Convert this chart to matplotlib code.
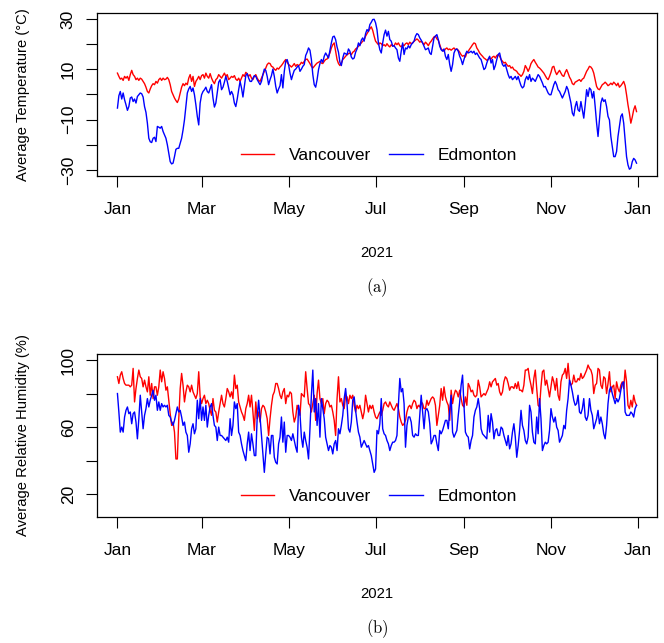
import matplotlib
matplotlib.use("Agg")
import matplotlib.pyplot as plt
import pandas as pd

plt.rcParams['font.family'] = ['Liberation Sans', 'DejaVu Sans']
plt.rcParams['mathtext.fontset'] = 'cm'

days = pd.date_range("2021-01-01", "2021-12-31", freq="D")

# daily mean temperature (C)
van_temp = [
    8.5, 7.2, 6.1, 6.5, 5.6, 7.2, 6.5, 7.2, 5.6, 7.9,
    9.6, 7.9, 7.2, 5.9, 6.5, 5.6, 6.5, 6.1, 5.2, 4.3,
    2.9, 1.2, 0.6, 2.2, 3.5, 4.3, 3.9, 5.2, 4.5, 5.9,
    6.5, 5.6, 6.5, 5.9, 6.1, 6.8, 5.9, 3.9, 1.2, -0.1,
    -1.4, -2.4, -3.2, -1.8, 0.6, 2.9, 4.3, 3.5, 4.5, 3.9,
    6.5, 7.9, 5.2, 7.2, 3.2, 5.2, 6.1, 7.2, 5.9, 7.5,
    7.9, 6.5, 8.5, 7.2, 6.5, 8.3, 6.5, 5.2, 4.3, 5.9,
    6.5, 7.9, 7.2, 6.5, 7.5, 8.5, 7.2, 7.9, 5.9, 6.5,
    7.2, 6.8, 7.5, 6.1, 5.6, 6.5, 5.2, 6.5, 7.9, 7.2,
    8.8, 8.3, 7.2, 7.9, 6.5, 5.9, 7.2, 7.9, 6.5, 5.6,
    5.2, 6.5, 7.9, 9.2, 10.5, 11.9, 12.5, 12.3, 11.2, 10.9,
    10.1, 9.6, 10.5, 10.1, 10.9, 11.5, 12.3, 13.2, 13.9, 12.8,
    11.9, 11.5, 10.9, 11.5, 12.3, 11.2, 11.9, 11.5, 11.9, 12.8,
    12.3, 13.2, 13.9, 14.1, 13.2, 12.3, 11.2, 10.5, 11.2, 11.9,
    12.5, 12.8, 13.2, 12.5, 12.3, 13.2, 13.9, 14.1, 15.2, 16.5,
    18.5, 19.8, 20.5, 17.2, 13.9, 12.3, 11.5, 12.5, 13.9, 14.5,
    15.2, 15.8, 16.2, 16.5, 15.8, 16.8, 17.2, 18.1, 18.5, 19.2,
    19.8, 20.5, 21.2, 21.8, 23.2, 24.2, 25.1, 26.1, 26.9, 25.5,
    23.2, 21.2, 20.5, 19.8, 20.5, 20.2, 19.4, 19.8, 19.2, 20.2,
    19.4, 18.9, 19.8, 19.2, 19.4, 20.5, 19.8, 20.5, 19.4, 18.9,
    19.8, 19.4, 20.2, 20.5, 19.8, 20.8, 20.2, 20.5, 21.2, 21.6,
    22.1, 21.6, 20.8, 21.2, 20.5, 19.8, 20.8, 20.2, 19.4, 20.5,
    21.2, 22.1, 22.9, 23.2, 22.1, 21.6, 19.8, 18.1, 17.6, 17.2,
    18.1, 18.5, 17.8, 18.1, 17.6, 18.1, 18.5, 17.8, 18.1, 17.6,
    16.8, 15.8, 15.2, 15.5, 14.9, 16.5, 17.2, 18.1, 18.9, 19.8,
    20.5, 20.2, 18.5, 17.6, 16.5, 15.8, 15.2, 14.5, 14.1, 13.6,
    13.9, 14.5, 14.1, 14.9, 15.2, 14.5, 15.5, 15.8, 15.2, 13.9,
    13.2, 12.5, 12.8, 11.9, 11.2, 11.5, 10.5, 10.9, 9.9, 9.6,
    9.2, 8.3, 7.9, 7.2, 7.9, 9.2, 11.5, 10.5, 9.2, 10.5,
    12.3, 13.2, 13.9, 12.8, 11.9, 10.9, 10.5, 9.9, 9.2, 8.5,
    7.5, 6.5, 5.9, 7.2, 8.8, 10.9, 11.2, 9.2, 7.9, 8.8,
    9.6, 8.5, 7.5, 7.2, 8.8, 9.9, 8.5, 6.9, 5.9, 4.3,
    3.9, 4.9, 5.2, 5.6, 5.9, 5.2, 6.1, 6.5, 7.9, 9.2,
    10.1, 11.2, 10.9, 10.1, 8.5, 5.9, 3.2, 2.2, 1.9, 2.9,
    3.9, 4.3, 4.9, 4.3, 3.5, 3.9, 4.5, 3.9, 4.9, 4.3,
    3.5, 4.5, 2.9, 3.5, 4.3, 5.2, 3.5, -0.1, -4.1, -7.4,
    -11.4, -9.0, -6.1, -4.5, -6.8,
]

edm_temp = [
    -5.4, -0.5, 1.2, -1.8, 0.6, -2.1, -4.1, -6.3, -4.8, -1.4,
    -1.0, -2.8, -1.8, -3.4, -0.8, -0.1, 0.6, 0.3, -1.0, -4.8,
    -7.1, -11.4, -17.4, -18.8, -19.1, -17.4, -17.0, -18.7, -12.7, -13.0,
    -13.4, -12.7, -14.7, -16.1, -17.4, -20.0, -23.4, -26.7, -27.6, -27.3,
    -24.7, -21.8, -21.4, -21.4, -19.4, -17.4, -14.1, -10.1, -4.8, 0.6,
    2.2, 3.2, 1.2, 2.6, -0.1, -4.1, -8.7, -12.1, -3.4, -0.1,
    1.2, 1.9, 2.9, 1.2, 0.6, 2.2, 3.9, -1.4, -5.0, -3.4,
    0.6, 4.9, 5.9, 1.9, 2.9, 4.9, 7.2, 5.2, 2.6, -0.1,
    1.2, -0.1, -3.4, -4.8, -1.8, 1.9, 5.2, 2.6, -1.0, 3.2,
    7.5, 8.3, 6.5, 5.2, 5.2, 6.5, 7.5, 7.2, 5.9, 4.9,
    3.9, 5.2, 7.9, 10.1, 9.6, 7.2, 3.9, 5.9, 7.5, 10.1,
    7.2, 3.2, 0.6, 2.2, 3.5, 7.9, 2.6, 9.2, 13.2, 13.9,
    11.9, 8.5, 5.9, 7.9, 9.6, 10.1, 10.9, 11.5, 9.2, 10.1,
    11.2, 11.9, 15.5, 16.8, 18.5, 17.6, 13.9, 7.9, 3.9, 2.9,
    5.9, 9.9, 12.3, 13.9, 12.8, 15.2, 16.5, 15.5, 14.5, 17.6,
    20.5, 22.9, 23.2, 21.8, 18.9, 16.8, 12.8, 11.5, 14.5, 16.5,
    16.2, 15.8, 18.1, 17.2, 14.9, 14.1, 14.5, 16.8, 18.1, 20.5,
    19.4, 21.6, 22.5, 21.2, 24.2, 25.8, 25.1, 27.8, 28.7, 29.8,
    29.9, 28.5, 25.8, 20.5, 17.8, 16.5, 20.5, 23.8, 25.6, 23.2,
    25.1, 21.8, 21.2, 19.2, 19.4, 18.5, 17.8, 14.5, 13.2, 17.2,
    20.5, 15.9, 18.5, 18.1, 19.4, 18.5, 19.8, 20.5, 21.2, 23.2,
    24.2, 23.8, 22.5, 21.6, 20.5, 19.2, 17.8, 18.1, 18.5, 16.5,
    15.9, 19.2, 22.5, 23.2, 23.8, 21.8, 19.2, 17.8, 17.2, 18.1,
    15.2, 13.9, 15.9, 11.9, 9.2, 11.9, 16.5, 17.8, 18.1, 17.2,
    15.2, 13.9, 11.9, 13.9, 15.9, 17.2, 16.5, 16.8, 17.2, 16.5,
    17.2, 15.9, 16.5, 15.5, 14.5, 13.9, 11.9, 9.9, 10.5, 12.5,
    14.1, 15.2, 12.5, 13.9, 9.9, 11.5, 13.9, 15.9, 16.5, 13.9,
    11.9, 11.2, 11.9, 9.9, 7.9, 6.5, 7.2, 5.9, 6.5, 7.2,
    5.9, 7.2, 5.2, 3.5, 2.6, 3.2, 5.9, 7.2, 5.9, 7.9,
    5.2, 6.5, 5.9, 5.2, 6.5, 7.9, 7.2, 5.9, 4.6, 3.0,
    3.2, 1.9, 0.6, -0.1, -0.1, 1.9, 3.9, 5.2, 3.9, 1.9,
    1.2, -0.1, -1.4, -0.1, 1.2, 3.2, 1.9, -0.8, -3.4, -7.4,
    -8.5, -4.8, -2.8, -6.1, -6.7, -2.8, -6.1, -9.4, -4.1, 1.9,
    -0.8, 2.6, 1.9, -1.4, 1.2, -4.8, -11.4, -16.7, -10.1, -3.4,
    -1.4, -2.8, -2.1, -4.8, -8.7, -10.1, -16.7, -20.7, -24.7, -24.7,
    -22.7, -16.7, -12.7, -8.7, -7.7, -11.4, -18.1, -24.7, -28.0, -29.7,
    -29.3, -26.7, -25.4, -26.0, -27.3,
]

# daily mean relative humidity (%)
van_rh = [
    90, 86, 91, 93, 89, 86, 85, 85, 85, 84,
    85, 95, 75, 83, 89, 94, 90, 89, 84, 88,
    84, 81, 90, 79, 86, 77, 84, 84, 79, 84,
    94, 87, 93, 89, 82, 84, 76, 68, 61, 63,
    57, 41, 41, 65, 83, 92, 85, 75, 81, 85,
    84, 81, 85, 81, 79, 77, 80, 93, 78, 74,
    77, 79, 74, 76, 74, 70, 67, 77, 70, 69,
    63, 69, 74, 79, 74, 72, 77, 83, 81, 78,
    81, 77, 91, 83, 85, 75, 72, 69, 67, 64,
    71, 74, 79, 72, 79, 69, 58, 75, 65, 69,
    63, 71, 73, 72, 69, 65, 55, 65, 73, 79,
    81, 86, 86, 83, 79, 77, 81, 83, 74, 79,
    78, 81, 80, 69, 63, 66, 73, 70, 67, 80,
    79, 78, 93, 83, 74, 73, 69, 74, 79, 64,
    80, 88, 77, 74, 77, 68, 74, 76, 75, 72,
    73, 69, 64, 55, 77, 90, 75, 77, 73, 71,
    79, 78, 74, 79, 77, 79, 73, 69, 73, 71,
    73, 69, 65, 69, 79, 74, 69, 73, 71, 73,
    69, 66, 65, 67, 69, 67, 70, 74, 75, 73,
    72, 75, 73, 71, 70, 72, 74, 71, 66, 63,
    61, 62, 64, 69, 72, 73, 71, 74, 76, 75,
    71, 73, 72, 75, 74, 71, 71, 76, 73, 75,
    77, 78, 77, 73, 61, 67, 73, 83, 76, 84,
    78, 75, 73, 64, 82, 74, 79, 82, 81, 78,
    82, 77, 73, 72, 78, 73, 86, 84, 81, 82,
    79, 78, 79, 88, 84, 78, 79, 80, 79, 81,
    83, 87, 84, 87, 88, 89, 85, 86, 81, 79,
    81, 87, 90, 89, 86, 82, 84, 84, 83, 86,
    83, 87, 82, 82, 81, 85, 94, 94, 95, 89,
    85, 80, 89, 94, 83, 73, 72, 84, 93, 94,
    85, 88, 83, 78, 84, 90, 87, 82, 89, 79,
    76, 87, 91, 92, 95, 89, 98, 88, 85, 86,
    91, 87, 87, 89, 88, 92, 89, 90, 92, 94,
    97, 95, 94, 91, 80, 85, 86, 95, 94, 85,
    83, 90, 89, 80, 86, 93, 81, 84, 85, 77,
    87, 83, 81, 85, 87, 83, 94, 87, 73, 71,
    76, 72, 79, 75, 73,
]

edm_rh = [
    80, 69, 57, 60, 57, 66, 70, 72, 68, 69,
    62, 68, 69, 63, 53, 65, 79, 69, 59, 67,
    71, 77, 72, 76, 79, 82, 76, 79, 70, 75,
    70, 74, 72, 73, 72, 73, 67, 66, 63, 61,
    64, 68, 72, 69, 70, 66, 61, 63, 57, 55,
    45, 50, 59, 62, 56, 59, 76, 65, 77, 64,
    72, 64, 73, 60, 67, 72, 74, 67, 61, 60,
    52, 60, 55, 55, 54, 53, 52, 54, 51, 65,
    55, 61, 75, 71, 74, 57, 55, 50, 46, 43,
    40, 50, 57, 46, 56, 50, 43, 43, 66, 76,
    66, 55, 44, 33, 44, 54, 53, 44, 55, 55,
    42, 39, 38, 50, 54, 66, 51, 63, 45, 55,
    55, 54, 52, 56, 52, 48, 45, 73, 68, 54,
    48, 57, 52, 48, 41, 59, 79, 94, 69, 77,
    61, 74, 54, 77, 71, 65, 54, 50, 46, 49,
    48, 44, 50, 52, 46, 59, 56, 61, 67, 77,
    83, 74, 59, 57, 63, 76, 78, 70, 63, 57,
    54, 48, 50, 52, 50, 48, 49, 46, 43, 38,
    33, 35, 58, 56, 62, 77, 59, 56, 55, 52,
    50, 46, 49, 51, 51, 52, 55, 73, 89, 81,
    83, 74, 48, 61, 66, 66, 63, 55, 54, 56,
    55, 55, 67, 79, 69, 59, 70, 71, 69, 62,
    50, 52, 55, 55, 50, 46, 58, 56, 58, 61,
    64, 64, 59, 70, 79, 57, 54, 56, 58, 67,
    75, 85, 91, 73, 57, 55, 54, 47, 52, 55,
    66, 70, 72, 77, 71, 59, 56, 55, 54, 53,
    67, 57, 68, 63, 53, 58, 59, 55, 55, 60,
    59, 55, 52, 49, 55, 47, 50, 57, 62, 54,
    42, 49, 58, 70, 61, 58, 52, 50, 54, 73,
    69, 57, 51, 50, 66, 56, 77, 65, 46, 49,
    51, 50, 51, 58, 71, 66, 63, 66, 60, 58,
    51, 53, 55, 61, 59, 70, 77, 88, 85, 81,
    76, 73, 74, 79, 69, 68, 71, 77, 66, 64,
    67, 77, 70, 67, 59, 62, 65, 70, 62, 66,
    62, 56, 53, 61, 74, 82, 84, 80, 77, 74,
    77, 75, 77, 82, 86, 87, 69, 67, 67, 67,
    69, 68, 66, 71, 73,
]

month_ticks = pd.date_range("2021-01-01", "2022-01-01", freq="2MS")
month_labels = ["Jan", "Mar", "May", "Jul", "Sep", "Nov", "Jan"]

temp_ticks = [-30, -20, -10, 0, 10, 20, 30]
temp_labels = ["\u221230", "", "\u221210", "", "10", "", "30"]
rh_ticks = [20, 40, 60, 80, 100]
rh_labels = ["20", "", "60", "", "100"]


def draw_panel(ax, van, edm, ylim, yticks, ylabels, ylabel, caption):
    ax.plot(days, van, color="red", lw=1.0, label="Vancouver")
    ax.plot(days, edm, color="blue", lw=1.0, label="Edmonton")

    pad = pd.Timedelta(days=14.56)
    ax.set_xlim(days[0] - pad, days[-1] + pad)
    ax.set_ylim(*ylim)
    ax.set_xticks(month_ticks)
    ax.set_xticklabels(month_labels)
    ax.set_yticks(yticks)
    ax.set_yticklabels(ylabels, rotation=90, va="center")
    ax.tick_params(axis="both", length=8, width=0.8, labelsize=12.5, direction="out")
    ax.tick_params(axis="x", pad=10.5)
    ax.tick_params(axis="y", pad=7)
    for s in ax.spines.values():
        s.set_linewidth(0.9)

    ax.legend(loc="center", bbox_to_anchor=(0.503, 0.125), ncol=2, frameon=False,
              fontsize=12.5, handlelength=1.95, handletextpad=0.85, columnspacing=1.0)

    ax.text(-0.1315, 0.5, ylabel, rotation=90, ha="center", va="center",
            fontsize=10.6, transform=ax.transAxes)
    ax.text(0.5, -0.472, "2021", ha="center", va="center",
            fontsize=10.6, transform=ax.transAxes)
    ax.text(0.5, -0.687, caption, ha="center", va="center",
            fontsize=12, transform=ax.transAxes)


fig = plt.figure(figsize=(6.64, 6.43), dpi=100)
ax1 = fig.add_axes([0.1456, 0.7263, 0.8443, 0.2535])
ax2 = fig.add_axes([0.1456, 0.1960, 0.8443, 0.2535])

draw_panel(ax1, van_temp, edm_temp, (-32.4, 32.4), temp_ticks, temp_labels,
           "Average Temperature (\u00b0C)", r"$\mathrm{(a)}$")
draw_panel(ax2, van_rh, edm_rh, (6.4, 103.6), rh_ticks, rh_labels,
           "Average Relative Humidity (%)", r"$\mathrm{(b)}$")

fig.savefig("out.png", dpi=100)
